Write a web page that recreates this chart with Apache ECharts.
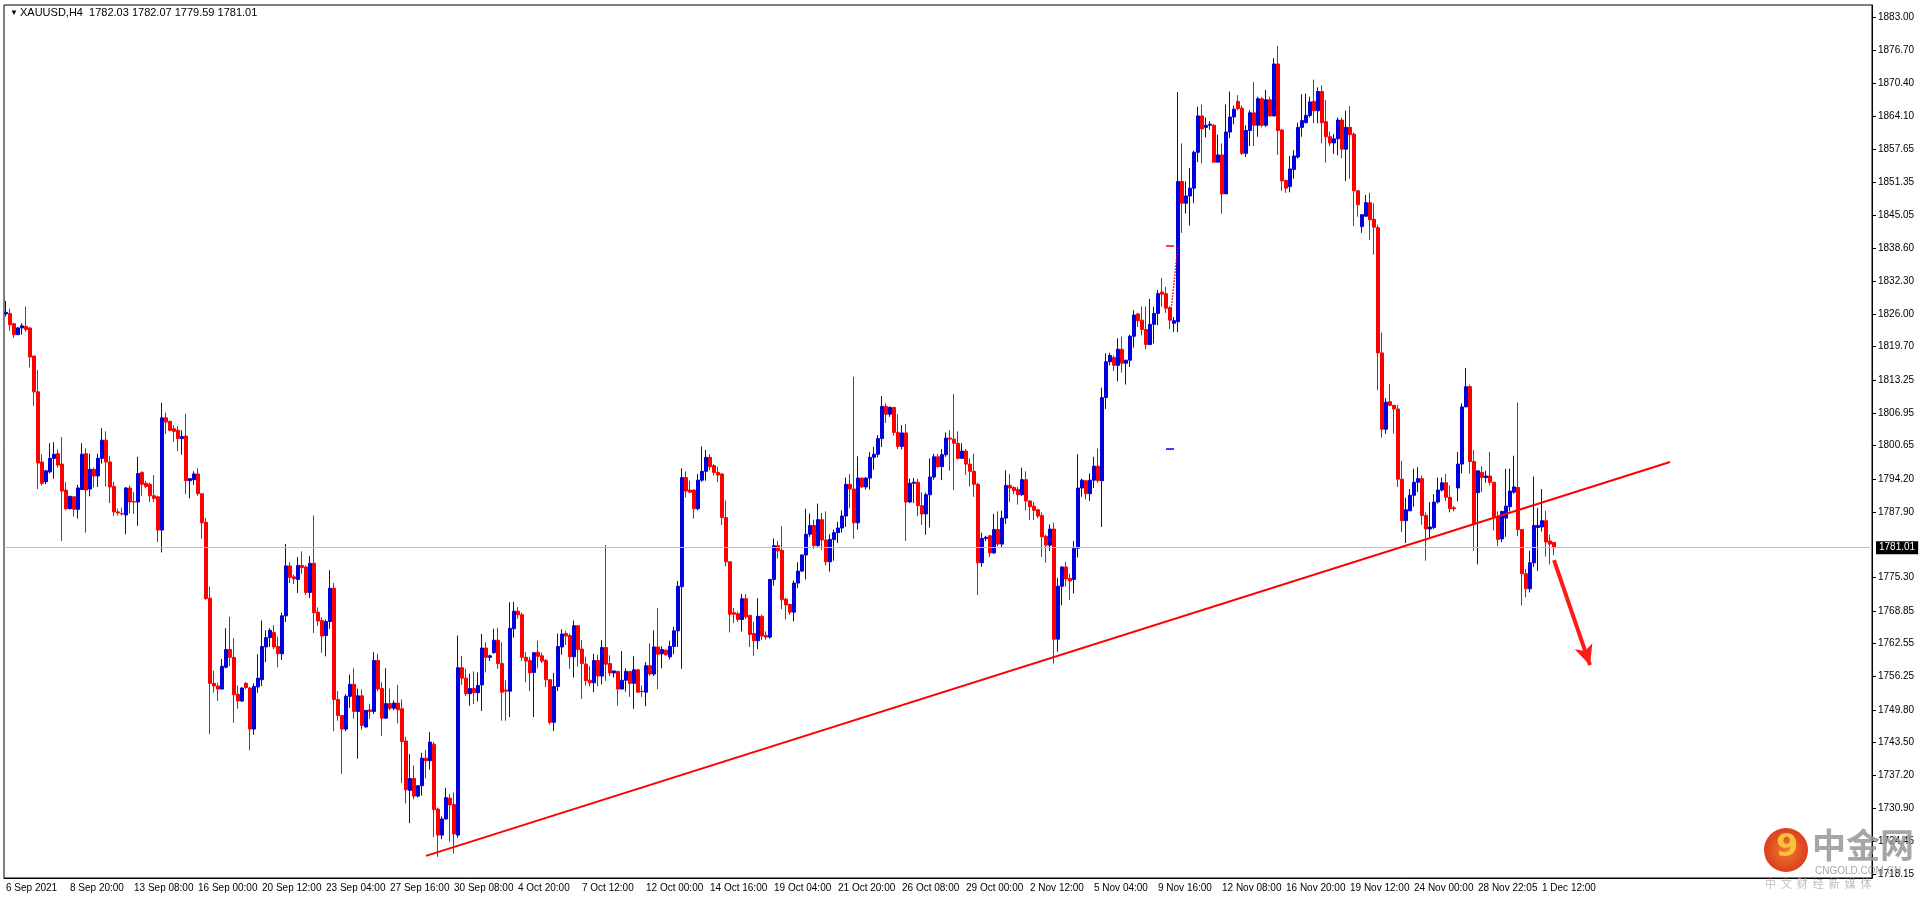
<!DOCTYPE html>
<html><head><meta charset="utf-8">
<script src="https://cdn.jsdelivr.net/npm/echarts@6/dist/echarts.min.js"></script>
<style>html,body{margin:0;padding:0;background:#fff}#c{width:1920px;height:900px}</style>
</head><body><div id="c"></div>
<script>
const opens=[1826.0,1826.1,1824.1,1822.0,1823.3,1823.6,1823.3,1817.9,1811.0,1797.5,
1793.7,1795.6,1798.2,1799.1,1797.1,1792.1,1788.5,1790.8,1788.4,1792.2,
1799.1,1792.3,1796.1,1794.8,1798.2,1801.7,1797.5,1792.8,1787.9,1787.6,
1787.3,1792.5,1789.9,1789.8,1795.5,1793.4,1793.2,1791.0,1790.8,1784.4,
1806.0,1805.3,1803.9,1803.6,1802.0,1802.5,1793.9,1794.1,1795.2,1791.4,
1785.9,1771.3,1754.9,1754.4,1753.8,1758.0,1761.4,1759.9,1752.8,1751.5,
1754.9,1754.0,1746.1,1754.2,1755.6,1761.9,1763.7,1764.7,1762.0,1760.6,
1767.9,1777.5,1775.4,1774.9,1777.6,1777.3,1772.4,1778.0,1768.6,1767.0,
1764.1,1766.8,1773.2,1751.8,1748.7,1746.1,1752.4,1754.7,1749.5,1752.5,
1746.5,1749.8,1749.5,1759.3,1753.9,1748.2,1751.0,1750.1,1751.1,1750.0,
1743.8,1734.3,1736.6,1733.2,1735.2,1740.5,1740.0,1743.2,1730.7,1725.7,
1728.8,1732.8,1731.6,1725.7,1757.9,1755.9,1752.9,1753.9,1753.1,1754.6,
1761.7,1759.9,1760.8,1763.2,1758.7,1753.6,1753.4,1765.4,1768.8,1768.1,
1759.9,1759.3,1757.0,1760.9,1760.2,1759.3,1755.6,1747.4,1754.3,1761.9,
1764.5,1764.1,1760.0,1766.0,1761.5,1758.6,1755.5,1755.0,1759.3,1756.3,
1761.8,1758.7,1756.9,1757.2,1753.8,1755.5,1757.2,1754.9,1757.5,1753.4,
1753.2,1758.3,1756.7,1761.9,1760.6,1761.3,1760.0,1762.0,1765.0,1773.5,
1794.5,1792.1,1792.1,1788.5,1794.0,1795.7,1798.4,1796.8,1795.5,1795.2,
1786.8,1778.3,1768.5,1768.3,1767.2,1771.2,1768.0,1764.5,1763.1,1767.8,
1764.1,1763.8,1774.9,1781.4,1780.5,1771.1,1770.1,1768.6,1774.2,1776.5,
1779.6,1783.6,1785.3,1781.4,1786.4,1782.5,1778.3,1782.6,1783.9,1784.8,
1787.1,1793.2,1792.3,1785.8,1794.4,1792.7,1794.4,1798.4,1799.0,1802.0,
1808.2,1806.7,1808.0,1803.2,1800.5,1803.1,1789.8,1793.4,1793.6,1789.1,
1787.5,1791.2,1794.6,1798.5,1796.6,1798.9,1802.1,1801.9,1801.1,1798.2,
1799.6,1797.1,1795.7,1793.2,1778.1,1782.8,1783.3,1780.0,1784.5,1781.7,
1786.7,1793.0,1792.6,1792.2,1791.2,1794.1,1790.0,1789.0,1788.3,1787.2,
1783.2,1781.5,1784.6,1763.4,1773.6,1777.3,1775.1,1774.9,1780.9,1792.5,
1793.9,1791.4,1794.0,1796.7,1793.9,1809.9,1816.8,1817.6,1816.1,1819.2,
1816.5,1817.1,1821.7,1826.0,1824.8,1823.0,1820.1,1824.0,1826.1,1830.2,
1829.9,1827.2,1824.2,1824.5,1851.5,1847.3,1848.7,1850.2,1857.1,1864.1,
1861.9,1862.3,1862.3,1855.2,1856.6,1849.1,1861.0,1863.9,1866.9,1865.6,
1856.9,1861.3,1864.7,1862.3,1867.4,1862.3,1867.2,1864.1,1874.1,1861.4,
1851.7,1850.5,1853.8,1856.2,1861.9,1862.8,1864.2,1866.9,1865.1,1868.8,
1863.0,1860.1,1858.9,1859.7,1863.3,1857.7,1861.9,1860.6,1849.7,1842.8,
1844.8,1847.4,1844.2,1842.6,1818.5,1803.8,1809.1,1808.4,1807.7,1794.2,
1786.2,1788.1,1791.1,1793.6,1794.3,1787.2,1784.6,1784.9,1789.8,1792.1,
1793.5,1790.7,1788.7,1792.5,1797.1,1808.1,1812.0,1797.6,1791.6,1795.5,
1794.5,1794.8,1793.6,1786.9,1782.7,1786.7,1788.9,1791.7,1792.6,1784.5,
1776.0,1773.1,1778.1,1784.9,1785.0,1786.2,1782.3,1782.03];
const highs=[1828.5,1827.0,1824.3,1823.5,1824.2,1827.4,1823.5,1817.9,1815.2,1799.0,
1796.0,1801.1,1801.3,1799.9,1802.3,1793.6,1790.9,1790.9,1793.1,1801.1,
1800.1,1799.1,1796.4,1799.1,1804.0,1803.4,1798.7,1793.7,1788.5,1788.7,
1792.7,1793.0,1791.7,1798.5,1795.7,1793.9,1793.5,1795.0,1791.0,1808.9,
1807.0,1805.5,1804.6,1804.4,1803.6,1806.8,1794.4,1795.7,1796.3,1791.5,
1786.7,1773.5,1757.3,1755.0,1759.6,1765.5,1767.7,1763.6,1754.5,1754.1,
1755.2,1754.2,1754.9,1760.5,1767.0,1765.1,1765.5,1766.1,1763.9,1768.5,
1781.7,1778.2,1775.8,1779.2,1780.3,1777.6,1779.4,1787.2,1769.5,1767.6,
1767.2,1776.7,1774.2,1753.4,1748.7,1752.8,1756.6,1757.8,1753.9,1753.7,
1749.8,1750.9,1760.9,1760.6,1755.1,1757.8,1753.9,1751.6,1754.6,1751.8,
1744.6,1741.3,1739.1,1735.3,1741.5,1742.1,1745.5,1743.6,1731.0,1729.3,
1734.8,1733.6,1733.9,1764.1,1760.2,1757.7,1756.8,1757.2,1757.0,1764.4,
1762.8,1760.4,1765.4,1765.6,1762.8,1755.5,1770.5,1770.6,1769.6,1768.5,
1760.9,1760.0,1760.9,1763.1,1760.8,1759.6,1755.6,1756.9,1764.5,1765.3,
1765.0,1764.5,1767.0,1766.1,1763.2,1760.0,1758.2,1760.6,1760.4,1763.2,
1781.5,1760.3,1757.3,1757.3,1761.1,1757.8,1757.3,1760.1,1757.7,1754.5,
1759.0,1762.6,1765.1,1769.4,1762.0,1761.4,1763.1,1765.8,1774.6,1796.3,
1795.7,1793.9,1792.2,1795.2,1800.5,1799.8,1799.0,1797.1,1796.6,1795.3,
1790.1,1778.3,1769.4,1768.7,1772.1,1772.1,1768.0,1766.8,1771.3,1768.1,
1764.9,1775.0,1782.8,1782.3,1785.1,1771.4,1770.2,1774.7,1778.2,1779.7,
1788.5,1787.6,1786.4,1789.5,1787.7,1788.0,1783.6,1784.5,1786.0,1788.2,
1794.5,1795.2,1813.9,1798.6,1794.5,1794.6,1799.4,1800.4,1802.7,1810.2,
1808.8,1808.2,1808.1,1806.7,1804.6,1804.8,1794.3,1794.4,1794.3,1791.7,
1791.6,1798.2,1799.1,1799.0,1800.0,1803.2,1803.6,1810.6,1803.4,1801.1,
1800.0,1798.2,1799.1,1793.5,1783.9,1783.3,1783.5,1787.5,1788.0,1788.1,
1795.9,1795.2,1792.8,1792.7,1796.4,1795.7,1790.1,1789.8,1788.5,1787.8,
1783.5,1785.5,1785.8,1775.2,1777.4,1778.3,1776.0,1782.3,1799.0,1794.3,
1794.0,1795.3,1798.5,1800.1,1811.8,1818.4,1818.5,1818.0,1821.3,1821.6,
1817.1,1822.0,1826.7,1826.2,1827.4,1827.4,1828.9,1827.4,1830.6,1832.9,
1831.2,1827.5,1825.4,1868.7,1858.8,1851.5,1854.1,1857.4,1865.9,1866.3,
1863.8,1863.1,1862.5,1860.5,1858.8,1866.3,1868.8,1866.1,1868.1,1866.1,
1862.3,1865.2,1870.6,1867.8,1867.7,1869.1,1867.8,1875.2,1877.6,1861.6,
1851.7,1856.4,1857.5,1862.8,1868.3,1868.4,1867.8,1871.1,1869.6,1870.0,
1867.2,1861.1,1860.6,1863.8,1863.8,1865.1,1866.0,1860.9,1849.8,1845.1,
1848.9,1849.3,1847.3,1843.2,1822.4,1809.8,1812.5,1808.5,1808.5,1797.7,
1790.6,1792.3,1796.2,1796.5,1794.9,1787.8,1789.8,1791.3,1794.5,1794.5,
1795.2,1793.0,1789.0,1799.4,1808.8,1815.6,1812.4,1799.8,1795.8,1796.7,
1795.8,1799.4,1793.6,1788.0,1788.0,1796.2,1796.2,1798.7,1808.9,1784.6,
1776.9,1780.4,1794.7,1788.6,1792.3,1788.1,1783.5,1782.07];
const lows=[1825.5,1822.8,1821.4,1822.0,1822.0,1822.6,1815.7,1808.3,1792.3,1793.0,
1793.2,1795.3,1794.3,1796.4,1782.3,1788.2,1788.4,1787.0,1786.6,1792.2,
1783.9,1790.9,1792.6,1792.7,1797.2,1792.8,1789.6,1787.1,1787.2,1787.2,
1783.6,1787.6,1787.5,1785.2,1791.0,1792.5,1789.8,1789.8,1782.1,1780.1,
1802.9,1803.4,1801.4,1799.6,1798.9,1791.3,1790.5,1793.1,1791.0,1782.7,
1771.0,1745.1,1753.1,1751.5,1753.8,1757.8,1758.2,1747.3,1750.0,1751.3,
1753.8,1742.0,1745.0,1753.1,1754.4,1759.0,1761.9,1761.5,1758.0,1759.4,
1766.7,1774.2,1774.0,1772.3,1776.0,1771.9,1771.3,1764.6,1766.0,1760.8,
1760.1,1765.4,1745.7,1747.7,1737.5,1745.7,1750.2,1748.1,1740.4,1746.0,
1746.4,1748.1,1749.0,1753.4,1744.8,1748.1,1749.7,1749.7,1747.2,1735.7,
1731.8,1728.0,1732.6,1732.9,1733.3,1736.6,1738.3,1725.3,1721.5,1724.9,
1728.7,1724.4,1722.1,1725.2,1754.6,1752.5,1750.6,1750.9,1751.4,1749.6,
1757.0,1759.2,1760.6,1757.7,1747.7,1747.7,1748.4,1763.7,1767.3,1759.2,
1755.1,1753.4,1748.4,1757.8,1758.8,1754.2,1747.0,1745.7,1753.4,1760.4,
1762.3,1757.7,1756.0,1758.1,1751.9,1754.5,1754.3,1753.2,1754.3,1754.7,
1755.4,1756.3,1756.0,1750.6,1753.8,1753.3,1752.3,1750.0,1753.2,1752.3,
1750.5,1756.4,1756.3,1753.8,1757.8,1760.2,1759.5,1760.5,1761.9,1757.7,
1790.7,1791.6,1786.6,1788.2,1793.7,1793.9,1795.9,1794.9,1793.6,1785.4,
1777.4,1764.7,1766.5,1766.7,1764.9,1767.3,1761.9,1760.2,1761.5,1763.2,
1763.3,1763.5,1773.7,1778.9,1769.2,1767.2,1768.1,1766.8,1773.2,1776.4,
1774.9,1783.1,1780.8,1781.2,1780.6,1777.6,1776.4,1778.5,1781.9,1783.9,
1785.0,1788.6,1782.7,1784.5,1792.5,1792.2,1792.2,1796.0,1798.4,1800.4,
1805.0,1806.2,1802.6,1800.0,1799.9,1782.3,1789.6,1789.6,1787.1,1785.4,
1783.5,1784.9,1794.1,1796.4,1794.0,1798.5,1795.8,1792.1,1798.0,1798.1,
1795.0,1792.8,1790.8,1771.9,1777.3,1782.3,1779.2,1779.8,1781.3,1781.0,
1785.6,1789.8,1791.3,1789.3,1791.0,1788.2,1786.3,1786.3,1786.7,1779.2,
1778.1,1780.4,1758.7,1761.0,1769.9,1773.5,1770.9,1772.2,1779.1,1790.8,
1790.3,1790.0,1792.5,1793.5,1785.0,1807.7,1816.1,1815.0,1813.0,1814.7,
1812.4,1815.8,1819.5,1823.5,1821.9,1819.2,1820.1,1820.3,1823.8,1827.4,
1826.2,1823.1,1822.5,1822.5,1841.6,1845.3,1843.0,1847.3,1855.2,1855.0,
1860.0,1861.4,1855.1,1855.2,1845.3,1849.1,1859.8,1862.5,1865.2,1856.6,
1856.2,1858.3,1858.3,1860.1,1861.9,1862.0,1864.0,1864.0,1856.6,1849.7,
1849.3,1849.4,1852.0,1855.9,1860.1,1862.7,1863.8,1862.7,1862.7,1858.8,
1855.1,1858.3,1856.8,1856.5,1856.0,1851.6,1852.0,1842.9,1844.7,1841.6,
1844.7,1840.2,1837.4,1811.3,1802.2,1802.9,1808.3,1803.0,1792.7,1784.0,
1781.9,1788.1,1788.9,1791.7,1785.4,1778.5,1782.8,1784.6,1789.5,1791.8,
1790.0,1787.8,1788.0,1789.9,1795.3,1808.1,1795.3,1780.4,1777.8,1791.7,
1793.5,1793.0,1784.3,1781.3,1782.1,1783.1,1788.0,1791.4,1783.2,1769.9,
1771.5,1772.4,1777.3,1776.5,1784.1,1779.3,1777.8,1779.59];
const closes=[1826.3,1823.9,1822.0,1823.3,1823.7,1823.0,1817.7,1811.0,1797.3,1793.4,
1795.8,1798.2,1799.0,1796.9,1791.9,1788.5,1790.9,1788.4,1792.5,1799.0,
1792.1,1796.1,1794.8,1798.2,1801.7,1797.5,1792.7,1787.9,1787.7,1787.5,
1792.5,1789.8,1789.8,1795.3,1793.2,1792.8,1791.0,1790.5,1784.4,1806.0,
1805.2,1803.6,1803.4,1802.0,1802.4,1793.9,1794.3,1795.2,1791.4,1785.8,
1771.2,1754.9,1754.4,1753.8,1758.2,1761.4,1759.9,1752.7,1751.5,1754.0,
1754.1,1746.1,1754.3,1755.9,1762.0,1763.7,1765.1,1761.9,1760.6,1767.9,
1777.5,1775.3,1775.0,1777.6,1777.2,1772.4,1778.0,1768.5,1766.9,1764.0,
1766.8,1773.2,1751.8,1748.7,1746.1,1752.4,1754.7,1749.5,1752.5,1746.8,
1749.7,1749.5,1759.3,1753.8,1748.2,1751.0,1750.1,1751.1,1749.8,1743.7,
1734.4,1736.6,1733.2,1735.2,1740.5,1740.0,1743.6,1730.6,1725.7,1728.8,
1732.9,1731.5,1725.9,1757.9,1755.9,1752.9,1753.9,1753.1,1754.5,1761.7,
1759.9,1760.2,1763.2,1758.7,1753.2,1753.4,1765.5,1768.8,1768.1,1759.9,
1759.2,1756.9,1760.8,1760.1,1759.2,1755.6,1747.4,1754.3,1762.0,1764.4,
1764.0,1760.0,1766.0,1761.4,1758.7,1755.4,1755.0,1759.3,1756.3,1761.8,
1758.6,1756.9,1757.3,1753.8,1755.5,1757.2,1754.9,1757.5,1753.2,1753.3,
1758.3,1756.7,1761.9,1760.5,1761.4,1760.4,1762.0,1765.0,1773.6,1794.5,
1791.9,1791.7,1788.5,1794.0,1795.7,1798.4,1796.6,1795.5,1795.0,1786.8,
1778.3,1768.2,1768.2,1767.2,1771.2,1767.7,1764.3,1763.1,1767.8,1764.0,
1763.8,1774.9,1781.4,1780.4,1771.0,1770.0,1768.6,1774.2,1776.5,1779.6,
1783.6,1785.3,1781.4,1786.4,1782.5,1778.3,1782.6,1783.9,1784.8,1787.1,
1793.2,1792.3,1785.8,1794.4,1792.7,1794.4,1798.4,1799.0,1802.0,1808.2,
1806.7,1808.0,1803.2,1800.5,1803.1,1789.8,1793.4,1793.6,1789.1,1787.5,
1791.2,1794.6,1798.5,1796.6,1798.9,1802.1,1801.9,1801.1,1798.2,1799.6,
1797.1,1795.7,1793.2,1778.1,1782.8,1783.0,1780.0,1784.5,1781.7,1786.7,
1793.0,1792.5,1792.0,1791.2,1794.1,1790.0,1788.9,1788.2,1787.1,1783.1,
1781.5,1784.6,1763.4,1773.6,1777.3,1775.0,1774.6,1780.9,1792.5,1794.0,
1791.4,1794.0,1796.7,1793.9,1809.9,1816.8,1818.0,1816.1,1819.2,1816.5,
1817.1,1821.7,1825.8,1824.7,1823.0,1820.1,1824.0,1826.1,1829.9,1829.8,
1827.1,1824.8,1824.7,1851.5,1847.3,1848.7,1850.2,1857.1,1864.1,1861.6,
1862.3,1862.5,1855.2,1856.6,1849.1,1861.0,1863.9,1865.4,1865.5,1856.9,
1861.3,1864.7,1862.3,1867.4,1862.3,1867.2,1864.1,1874.1,1861.3,1851.6,
1850.2,1853.9,1856.4,1861.9,1863.2,1864.2,1866.8,1865.1,1868.8,1862.8,
1860.1,1858.9,1859.7,1863.3,1857.7,1861.9,1860.5,1849.7,1847.0,1845.1,
1847.4,1844.1,1842.7,1818.5,1803.8,1809.0,1808.4,1807.7,1794.2,1786.2,
1788.3,1791.1,1793.6,1794.3,1787.2,1784.6,1785.0,1789.8,1792.1,1793.5,
1790.7,1788.5,1788.5,1797.1,1808.1,1812.0,1797.6,1785.5,1795.8,1794.5,
1794.8,1793.6,1786.9,1782.6,1788.0,1789.0,1791.9,1792.7,1784.5,1776.0,
1773.1,1778.1,1785.3,1785.3,1786.2,1782.1,1781.7,1781.01];
const xTickLabels=['6 Sep 2021','8 Sep 20:00','13 Sep 08:00','16 Sep 00:00','20 Sep 12:00','23 Sep 04:00','27 Sep 16:00','30 Sep 08:00','4 Oct 20:00','7 Oct 12:00','12 Oct 00:00','14 Oct 16:00','19 Oct 04:00','21 Oct 20:00','26 Oct 08:00','29 Oct 00:00','2 Nov 12:00','5 Nov 04:00','9 Nov 16:00','12 Nov 08:00','16 Nov 20:00','19 Nov 12:00','24 Nov 00:00','28 Nov 22:05','1 Dec 12:00'];
const yTickValues=[1883.00,1876.70,1870.40,1864.10,1857.65,1851.35,1845.05,1838.60,1832.30,1826.00,1819.70,1813.25,1806.95,1800.65,1794.20,1787.90,1775.30,1768.85,1762.55,1756.25,1749.80,1743.50,1737.20,1730.90,1724.45,1718.15];
const currentPrice=1781.01;
const trendLine=[[105,1721.7],[416,1797.5]];
const arrowLine=[[387,1778.6],[396,1758.4]];

const N=467;
const cats=[];
for(let i=0;i<N;i++){cats.push(i%16===0&&xTickLabels[i/16]?xTickLabels[i/16]:' '+i);}
const data=opens.map((o,i)=>[o,closes[i],lows[i],highs[i]]);
const showIdx=(i)=>i%16===0&&i/16<xTickLabels.length;

const chart=echarts.init(document.getElementById('c'));
chart.setOption({
  animation:false,
  backgroundColor:'#fff',
  grid:{left:4,right:48,top:5,bottom:22,show:true,borderColor:'#000',borderWidth:1},
  xAxis:{type:'category',data:cats,boundaryGap:true,
    axisLine:{lineStyle:{color:'#000'}},
    axisTick:{interval:showIdx,length:4,lineStyle:{color:'#000'},alignWithLabel:true},
    axisLabel:{interval:showIdx,align:'left',margin:5,fontSize:10,fontFamily:'Liberation Sans',color:'#000',
      formatter:v=>v.charAt(0)===' '?'':v}},
  yAxis:{type:'value',position:'right',min:1717.44,max:1885.45,scale:true,splitLine:{show:false},
    axisLine:{show:true,lineStyle:{color:'#000'}},
    axisTick:{show:true,length:4,customValues:yTickValues,lineStyle:{color:'#000'}},
    axisLabel:{customValues:yTickValues,margin:6,fontSize:10,fontFamily:'Liberation Sans',color:'#000',
      formatter:v=>v.toFixed(2)}},
  series:[{
    type:'candlestick',data:data,barWidth:3,
    itemStyle:{color:'#0000dd',color0:'#ff0000',borderColor:'#0000dd',borderColor0:'#ff0000',borderWidth:1},
    markLine:{silent:true,animation:false,symbol:['none','none'],
      data:[
        [{yAxis:currentPrice,x:4,lineStyle:{color:'#c0c0c0',width:1,type:'solid'},
          label:{show:true,position:'end',formatter:currentPrice.toFixed(2),backgroundColor:'#000',color:'#fff',fontSize:10,fontFamily:'Liberation Sans',padding:[2,3,1,3],distance:4}},
         {yAxis:currentPrice,x:1872}],
        [{coord:trendLine[0],lineStyle:{color:'#ff0000',width:2,type:'solid'},label:{show:false}},{coord:trendLine[1]}],
        [{coord:arrowLine[0],lineStyle:{color:'#ff1a1a',width:4,type:'solid'},label:{show:false},symbol:'none'},{coord:arrowLine[1],symbol:'arrow',symbolSize:[14,20]}],
        [{coord:[290,1800.1],lineStyle:{color:'#0000dd',width:1.5,type:'solid'},label:{show:false}},{coord:[292,1800.1]}],
        [{coord:[290,1839.2],lineStyle:{color:'#ff0000',width:1.5,type:'solid'},label:{show:false}},{coord:[292,1839.2]}],
        [{coord:[291,1824.7],lineStyle:{color:'#ff0000',width:1.5,type:'dotted'},label:{show:false}},{coord:[293,1839.2]}]
      ]}
  }],
  graphic:[
    {type:'text',left:10,top:9,style:{text:'▼',fontSize:8,fill:'#000'}},
    {type:'text',left:20,top:7,style:{text:'XAUUSD,H4  1782.03 1782.07 1779.59 1781.01',fontSize:11,fontFamily:'Liberation Sans',fill:'#000'}},
    {type:'circle',shape:{cx:1786,cy:850,r:22},style:{fill:{type:'radial',x:0.5,y:0.5,r:0.6,colorStops:[{offset:0,color:'#f07a2a'},{offset:1,color:'#d8321e'}]}},z:10},
    {type:'text',x:1776,y:832,style:{text:'9',fontSize:32,fontWeight:'bold',fontFamily:'DejaVu Sans',fill:'#f9c23c'},z:11},
    {type:'text',x:1812,y:828,style:{text:'中金网',fontSize:34,fontWeight:'bold',fontFamily:'Noto Sans CJK SC',fill:'rgba(150,150,150,0.85)'},z:10},
    {type:'text',x:1815,y:866,style:{text:'CNGOLD.COM.CN',fontSize:10,fontFamily:'Liberation Sans',fill:'rgba(150,150,150,0.85)'},z:10},
    {type:'text',x:1765,y:878,style:{text:'中  文  财  经  新  媒  体',fontSize:11,fontFamily:'Noto Sans CJK SC',fill:'rgba(170,170,170,0.8)'},z:10}
  ]
});
</script></body></html>
